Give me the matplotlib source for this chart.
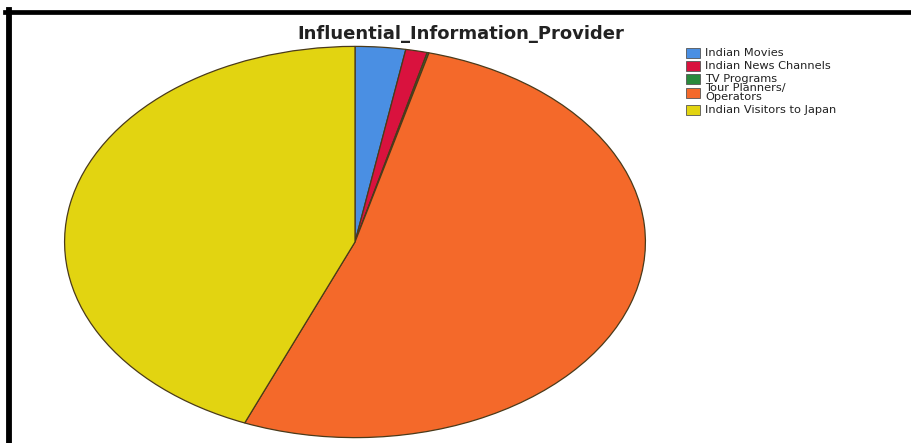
import matplotlib.pyplot as plt
from matplotlib.patches import Rectangle
from matplotlib.lines import Line2D

# proveedores de información y su porcentaje
labels = ["Indian Movies", "Indian News Channels", "TV Programs",
          "Tour Planners/\nOperators", "Indian Visitors to Japan"]
values = [2.8, 1.2, 0.1, 52.1, 43.8]
colors = ["#4a8fe3", "#d9123e", "#2a8a3c", "#f4692a", "#e2d411"]

plt.rcParams['font.family'] = ['DejaVu Sans']

W, H = 911, 443
fig = plt.figure(figsize=(W / 100, H / 100), dpi=100)
fig.patch.set_facecolor("white")

# marco negro arriba y a la izquierda
fig.add_artist(Line2D([5 / W, 1], [1 - 12 / H, 1 - 12 / H], color="black", lw=3.4,
                      transform=fig.transFigure))
fig.add_artist(Line2D([8.5 / W, 8.5 / W], [0, 1 - 10 / H], color="black", lw=4.2,
                      transform=fig.transFigure))

# pie elíptico: ejes sin aspecto igual
left, right, top, bottom = 64, 646, 46, 438
ax = fig.add_axes([left / W, 1 - bottom / H, (right - left) / W, (bottom - top) / H])
ax.pie(values, colors=colors, startangle=90, counterclock=False, radius=1,
       wedgeprops=dict(edgecolor="#4a3a1a", linewidth=0.9))
ax.set_aspect("auto")
ax.set_xlim(-1.002, 1.002)
ax.set_ylim(-1.002, 1.002)
ax.axis("off")

fig.text(461 / W, 1 - 34 / H, "Influential_Information_Provider", ha="center", va="center",
         fontsize=13, fontweight="bold", color="#222222")

# leyenda a mano, filas en píxeles desde arriba
row_y = [53, 66, 79, 92.5, 110]
for lab, col, y in zip(labels, colors, row_y):
    fig.add_artist(Rectangle((686 / W, 1 - (y + 5) / H), 14 / W, 10 / H,
                             facecolor=col, edgecolor="#555555", lw=0.6,
                             transform=fig.transFigure))
    fig.text(705 / W, 1 - y / H, lab, ha="left", va="center", fontsize=8.2,
             color="#222222", linespacing=0.85)

fig.savefig("out.png", dpi=100)
